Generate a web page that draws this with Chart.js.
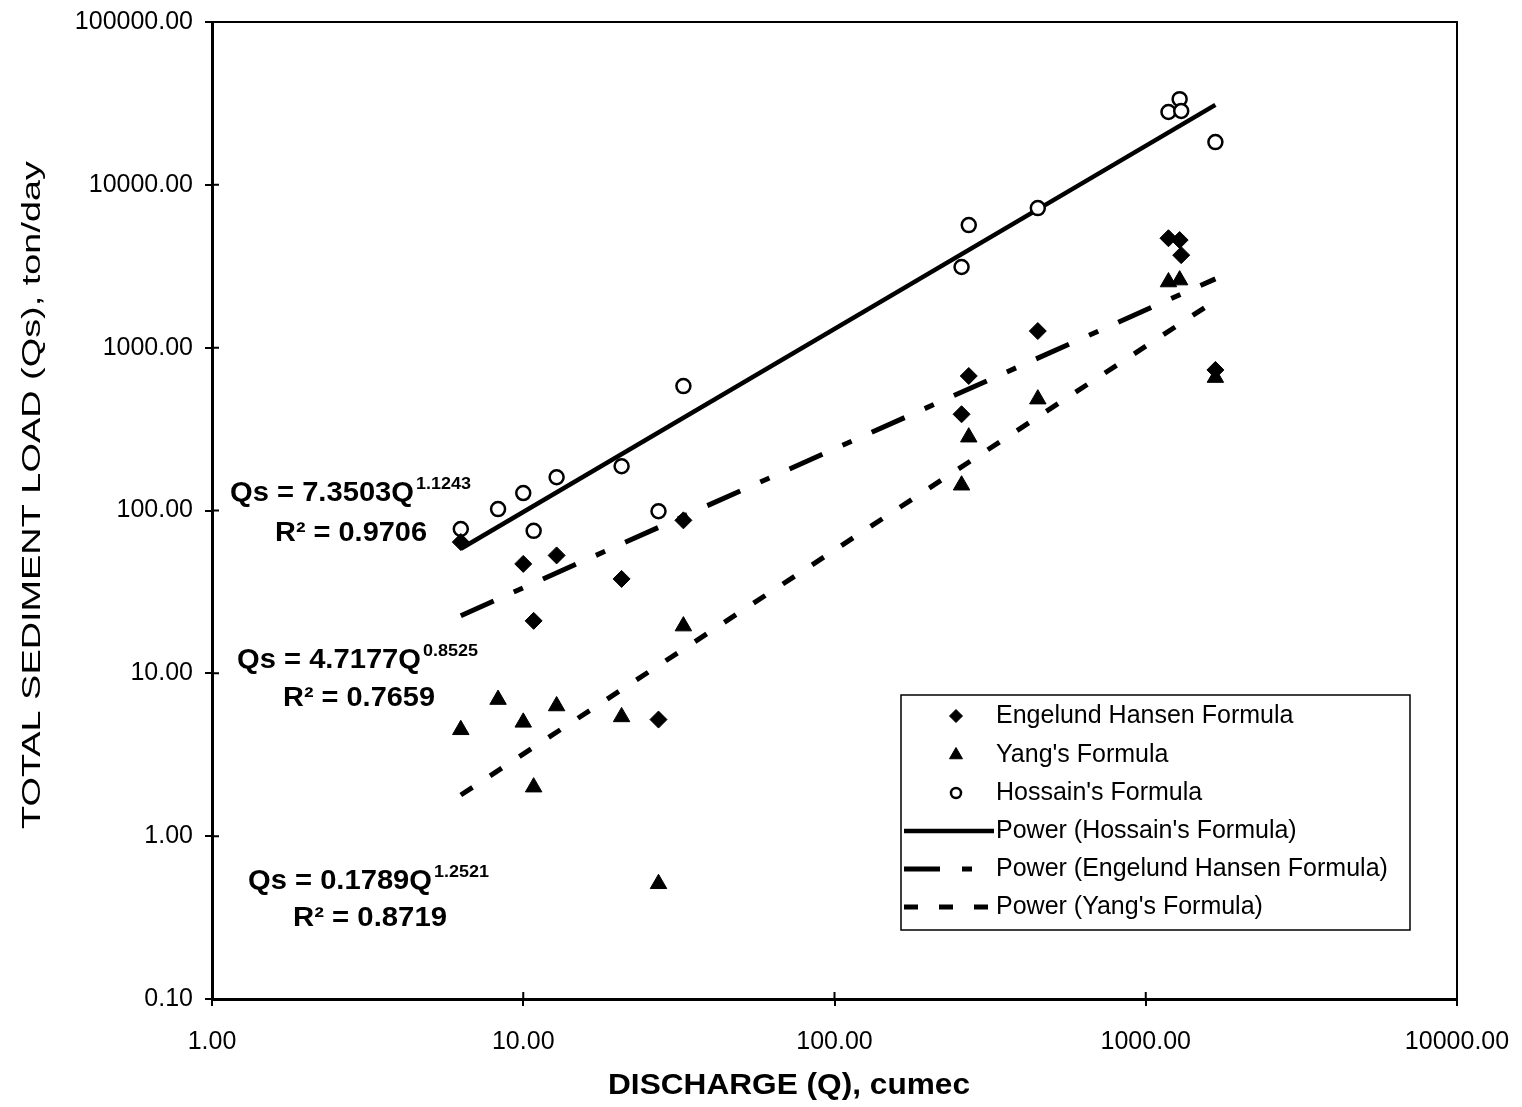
<!DOCTYPE html>
<html>
<head>
<meta charset="utf-8">
<title>Total sediment load vs discharge</title>
<script src="https://cdn.jsdelivr.net/npm/chart.js@4.4.1/dist/chart.umd.min.js"></script>
<style>
  html, body { margin: 0; padding: 0; background: #fff; }
  canvas { display: block; }
</style>
</head>
<body>
<canvas id="sedimentChart" width="1522" height="1107"></canvas>
<script>
// Discharge (cumec) of each measurement, shared by the three formulas
const discharge = [6.3, 8.3, 10.0, 10.8, 12.8, 20.7, 27.2, 32.7, 256, 270, 450, 1183, 1285, 1300, 1674];
// Total sediment load (ton/day); null where no marker is visible
const engelundHansen = [64, null, 47, 21, 53, 38, 5.2, 87, 390, 670, 1265, 4700, 4580, 3700, 730];
const yang = [4.5, 6.9, 5.0, 2.0, 6.3, 5.4, 0.51, 19.5, 143, 282, 483, 2530, 2600, null, 655];
const hossain = [77, 102, 128, 75, 160, 187, 99, 581, 3130, 5660, 7200, 28000, 33600, 28400, 18300];

// Power trend lines, end points
const trendDischarge = [6.3, 1674];
const hossainTrend = [58.2, 31000];
const engelundTrend = [22.6, 2645];
const yangTrend = [1.79, 1946];

// Fitted equations shown on the chart (Hossain, Engelund Hansen, Yang)
const fitCoef = ["7.3503", "4.7177", "0.1789"];
const fitExp = ["1.1243", "0.8525", "1.2521"];
const fitR2 = ["0.9706", "0.7659", "0.8719"];

const xTicks = [1, 10, 100, 1000, 10000];
const yTicks = [0.1, 1, 10, 100, 1000, 10000, 100000];

const FONT = "'Liberation Sans', Arial, Helvetica, sans-serif";
Chart.defaults.font.family = FONT;
Chart.defaults.color = "#000";

function toPoints(xs, ys) {
    return xs.map((x, i) => ({ x: x, y: ys[i] })).filter(p => p.y !== null);
}

// draw text squeezed/stretched to a given width
function fitText(ctx, text, x, y, width, font, align) {
    ctx.save();
    ctx.font = font;
    const w = ctx.measureText(text).width;
    const k = width / w;
    ctx.translate(align === "center" ? x - width / 2 : x, y);
    ctx.scale(k, 1);
    ctx.textAlign = "left";
    ctx.fillText(text, 0, 0);
    ctx.restore();
}

// plot frame, inner halves of the tick marks, axis titles
const framePlugin = {
    id: "frame",
    afterDraw(chart) {
        const { ctx, chartArea: a, scales } = chart;
        ctx.save();
        ctx.strokeStyle = "#000";
        ctx.lineWidth = 2;
        ctx.beginPath();
        ctx.moveTo(a.left, a.top);
        ctx.lineTo(a.right, a.top);
        ctx.lineTo(a.right, a.bottom);
        ctx.stroke();

        ctx.beginPath();
        scales.y.ticks.forEach(t => {
            const py = scales.y.getPixelForValue(t.value);
            ctx.moveTo(a.left, py);
            ctx.lineTo(a.left + 7, py);
        });
        scales.x.ticks.forEach(t => {
            const px = scales.x.getPixelForValue(t.value);
            ctx.moveTo(px, a.bottom);
            ctx.lineTo(px, a.bottom - 7);
        });
        ctx.stroke();

        ctx.fillStyle = "#000";
        ctx.textBaseline = "middle";
        fitText(ctx, "DISCHARGE (Q), cumec", 789, 1086, 362, "bold 30px " + FONT, "center");

        ctx.save();
        ctx.translate(33, 495);
        ctx.rotate(-Math.PI / 2);
        fitText(ctx, "TOTAL SEDIMENT LOAD (Qs), ton/day", 0, 0, 668, "26px " + FONT, "center");
        ctx.restore();
        ctx.restore();
    }
};

// fitted equations next to the trend lines
const equationPlugin = {
    id: "equations",
    afterDatasetsDraw(chart) {
        const ctx = chart.ctx;
        const rows = [
            { qx: 230, qw: 184, sw: 55, qy: 501, rx: 275, rw: 152, ry: 541 },
            { qx: 237, qw: 184, sw: 55, qy: 668, rx: 283, rw: 152, ry: 706 },
            { qx: 248, qw: 184, sw: 55, qy: 889, rx: 293, rw: 154, ry: 926 }
        ];
        ctx.save();
        ctx.fillStyle = "#000";
        ctx.textBaseline = "alphabetic";
        rows.forEach((r, i) => {
            fitText(ctx, "Qs = " + fitCoef[i] + "Q", r.qx, r.qy, r.qw, "bold 27px " + FONT);
            fitText(ctx, fitExp[i], r.qx + r.qw + 2, r.qy - 12, r.sw, "bold 16px " + FONT);
            fitText(ctx, "R\u00B2 = " + fitR2[i], r.rx, r.ry, r.rw, "bold 27px " + FONT);
        });
        ctx.restore();
    }
};

// boxed legend inside the plot, as in the original
const legendBoxPlugin = {
    id: "legendBox",
    afterDraw(chart) {
        const ctx = chart.ctx;
        const box = { left: 901, top: 695, right: 1410, bottom: 930 };
        const rowY = [716, 755, 793, 831, 869, 907];
        ctx.save();
        ctx.fillStyle = "#fff";
        ctx.fillRect(box.left, box.top, box.right - box.left, box.bottom - box.top);
        ctx.strokeStyle = "#000";
        ctx.lineWidth = 1.5;
        ctx.strokeRect(box.left, box.top, box.right - box.left, box.bottom - box.top);

        chart.data.datasets.forEach((ds, i) => {
            const y = rowY[i];
            ctx.save();
            if (ds.showLine) {
                ctx.strokeStyle = ds.borderColor;
                ctx.lineWidth = ds.borderWidth;
                ctx.setLineDash(ds.borderDash || []);
                ctx.beginPath();
                ctx.moveTo(904, y);
                ctx.lineTo(994, y);
                ctx.stroke();
            } else {
                ctx.fillStyle = ds.backgroundColor;
                ctx.strokeStyle = ds.borderColor;
                ctx.lineWidth = ds.borderWidth;
                Chart.helpers.drawPoint(ctx, {
                    pointStyle: ds.pointStyle,
                    radius: ds.pointRadius - 2,
                    borderWidth: ds.borderWidth,
                    rotation: 0
                }, 956, y);
            }
            ctx.restore();
            ctx.fillStyle = "#000";
            ctx.font = "25px " + FONT;
            ctx.textBaseline = "middle";
            ctx.textAlign = "left";
            ctx.fillText(ds.label, 996, y);
        });
        ctx.restore();
    }
};

const ctx = document.getElementById("sedimentChart").getContext("2d");
new Chart(ctx, {
    type: "scatter",
    data: {
        datasets: [
            {
                label: "Engelund Hansen Formula",
                data: toPoints(discharge, engelundHansen),
                pointStyle: "rectRot", pointRadius: 8.5,
                backgroundColor: "#000", borderColor: "#000", borderWidth: 1,
                order: 1
            },
            {
                label: "Yang's Formula",
                data: toPoints(discharge, yang),
                pointStyle: "triangle", pointRadius: 9.5,
                backgroundColor: "#000", borderColor: "#000", borderWidth: 1,
                order: 1
            },
            {
                label: "Hossain's Formula",
                data: toPoints(discharge, hossain),
                pointStyle: "circle", pointRadius: 7,
                backgroundColor: "#fff", borderColor: "#000", borderWidth: 2.5,
                order: 1
            },
            {
                label: "Power (Hossain's Formula)",
                data: toPoints(trendDischarge, hossainTrend),
                showLine: true, pointRadius: 0,
                borderColor: "#000", borderWidth: 4.5,
                order: 2
            },
            {
                label: "Power (Engelund Hansen Formula)",
                data: toPoints(trendDischarge, engelundTrend),
                showLine: true, pointRadius: 0,
                borderColor: "#000", borderWidth: 5, borderDash: [36, 22, 10, 22],
                order: 2
            },
            {
                label: "Power (Yang's Formula)",
                data: toPoints(trendDischarge, yangTrend),
                showLine: true, pointRadius: 0,
                borderColor: "#000", borderWidth: 5, borderDash: [14, 21],
                order: 2
            }
        ]
    },
    options: {
        responsive: false,
        animation: false,
        layout: { padding: { left: 0, right: 65, top: 22, bottom: 0 } },
        plugins: {
            legend: { display: false },
            tooltip: { enabled: false }
        },
        scales: {
            x: {
                type: "logarithmic",
                min: 1, max: 10000,
                afterBuildTicks: (scale) => { scale.ticks = xTicks.map(v => ({ value: v })); },
                afterFit: (scale) => { scale.height = 108; scale.paddingLeft = 0; scale.paddingRight = 0; },
                ticks: {
                    font: { size: 25 }, padding: 21, maxRotation: 0, autoSkip: false,
                    callback: (v) => Number(v).toFixed(2)
                },
                grid: { drawOnChartArea: false, drawTicks: true, tickLength: 7, color: "#000", lineWidth: 2 },
                border: { display: true, color: "#000", width: 3 }
            },
            y: {
                type: "logarithmic",
                min: 0.1, max: 100000,
                afterBuildTicks: (scale) => { scale.ticks = yTicks.map(v => ({ value: v })); },
                afterFit: (scale) => { scale.width = 212; scale.paddingTop = 0; scale.paddingBottom = 0; },
                ticks: {
                    font: { size: 25 }, padding: 12, autoSkip: false,
                    callback: (v) => Number(v).toFixed(2)
                },
                grid: { drawOnChartArea: false, drawTicks: true, tickLength: 7, color: "#000", lineWidth: 2 },
                border: { display: true, color: "#000", width: 3 }
            }
        }
    },
    plugins: [equationPlugin, framePlugin, legendBoxPlugin]
});
</script>
</body>
</html>
